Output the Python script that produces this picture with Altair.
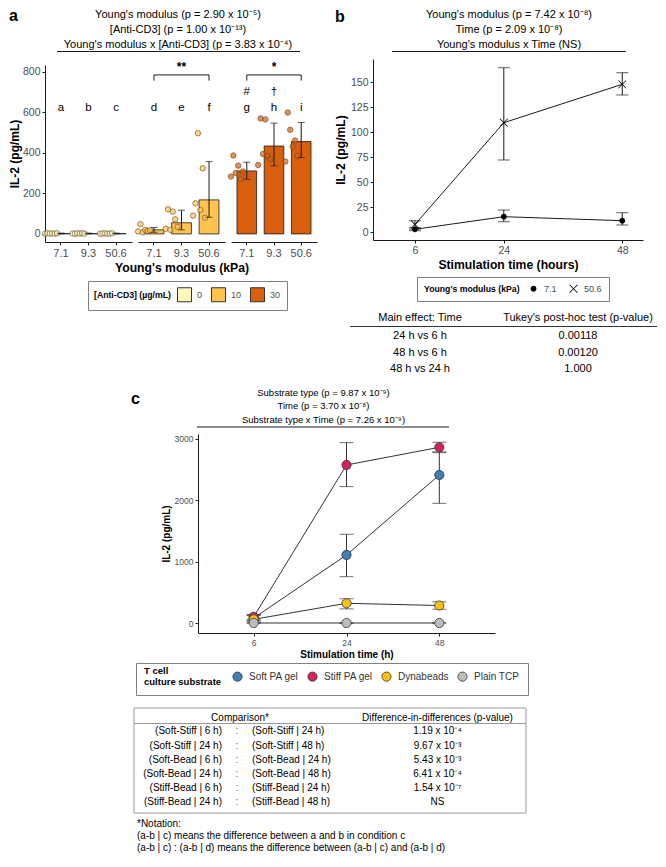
import altair as alt
import pandas as pd

FONT = "Liberation Sans"
W, H = 650, 847
INK = "#1a1a1a"
LAB = "#4d4d4d"
BOX = "#808080"
DXA = 8  # small right shift of panel a so its axis title stays inside the page


def cx(v):
    return v - 8


def cy(v):
    return v - 8


one = pd.DataFrame({"k": [0]})

# ---------------- data: panel a ----------------
moduli = ["7.1", "9.3", "50.6"]
anti_levels = ["0", "10", "30"]
anti_colors = ["#FFF7BC", "#FEC44F", "#D95F0E"]
a_mean = {"0": [2, 2, 2], "10": [20, 55, 168], "30": [311, 434, 456]}
a_lo = {"0": [0, 0, 0], "10": [8, 20, 82], "30": [270, 336, 377]}
a_hi = {"0": [4, 4, 4], "10": [32, 117, 357], "30": [354, 547, 550]}
a_letters = {"0": ["a", "b", "c"], "10": ["d", "e", "f"], "30": ["g", "h", "i"]}
a_marks = ["#", "†"]
a_reps = [1, 2, 3, 4, 5, 6]
a_points = {
    "0": [[1, 3, 2, 2, 1, 3], [2, 1, 3, 2, 3, 1], [1, 2, 3, 1, 2, 3]],
    "10": [[12, 48, 8, 20, 15, 18], [25, 122, 20, 110, 72, 35], [90, 151, 497, 118, 324, 80]],
    "30": [[283, 387, 301, 337, 270, 308], [340, 570, 395, 565, 385, 370], [357, 599, 514, 431, 461, 385]],
}
a_titles = ["Young's modulus (p = 2.90 x 10⁻⁵)",
            "[Anti-CD3] (p = 1.00 x 10⁻¹³)",
            "Young's modulus x [Anti-CD3]  (p = 3.83 x 10⁻⁴)"]
a_brackets = {"10": "**", "30": "*"}

# ---------------- data: panel b ----------------
b_times = [6, 24, 48]
b_mods = ["7.1", "50.6"]
b_mean = {"7.1": [2.7, 15.3, 11.3], "50.6": [7.5, 109.3, 147.7]}
b_lo = {"7.1": [1.3, 10.3, 7.0], "50.6": [3.0, 72.0, 137.0]}
b_hi = {"7.1": [4.3, 22.0, 19.3], "50.6": [11.3, 164.3, 159.3]}
b_titles = ["Young's modulus (p = 7.42 x 10⁻⁸)",
            "Time (p = 2.09 x 10⁻⁸)",
            "Young's modulus x Time  (NS)"]
tb_head = ["Main effect: Time", "Tukey's post-hoc test (p-value)"]
tb_comp = ["24 h vs 6 h", "48 h vs 6 h", "48 h vs 24 h"]
tb_p = ["0.00118", "0.00120", "1.000"]

# ---------------- data: panel c ----------------
c_times = ["6", "24", "48"]
c_subs = ["Soft PA gel", "Stiff PA gel", "Dynabeads", "Plain TCP"]
c_colors = ["#3E7FB8", "#D6245A", "#F7C20E", "#BDBDBD"]
c_mean = {"Soft PA gel": [80, 1109, 2413], "Stiff PA gel": [100, 2576, 2864],
          "Dynabeads": [60, 321, 285], "Plain TCP": [0, 0, 0]}
c_lo = {"Soft PA gel": [40, 755, 1951], "Stiff PA gel": [60, 2223, 2790],
        "Dynabeads": [20, 230, 225], "Plain TCP": [0, 0, 0]}
c_hi = {"Soft PA gel": [120, 1446, 2777], "Stiff PA gel": [140, 2940, 2946],
        "Dynabeads": [130, 395, 345], "Plain TCP": [0, 0, 0]}
c_titles = ["Substrate type (p = 9.87 x 10⁻⁹)",
            "Time (p = 3.70 x 10⁻⁸)",
            "Substrate type x Time  (p = 7.26 x 10⁻⁹)"]
tc_head = ["Comparison*", "Difference-in-differences (p-value)"]
tc_left = ["(Soft-Stiff | 6 h)", "(Soft-Stiff | 24 h)", "(Soft-Bead | 6 h)",
           "(Soft-Bead | 24 h)", "(Stiff-Bead | 6 h)", "(Stiff-Bead | 24 h)"]
tc_right = ["(Soft-Stiff | 24 h)", "(Soft-Stiff | 48 h)", "(Soft-Bead | 24 h)",
            "(Soft-Bead | 48 h)", "(Stiff-Bead | 24 h)", "(Stiff-Bead | 48 h)"]
tc_p = ["1.19 x 10⁻⁴", "9.67 x 10⁻³", "5.43 x 10⁻³", "6.41 x 10⁻⁴", "1.54 x 10⁻⁷", "NS"]
notes = ["*Notation:",
         "(a-b | c) means the difference between a and b in condition c",
         "(a-b | c) : (a-b | d) means the difference between (a-b | c)  and (a-b | d)"]


# ---------------- helpers ----------------
def label(s, x, y, size=11, weight="normal", align="center", baseline="middle", color="black"):
    return alt.Chart(one).mark_text(text=s, font=FONT, fontSize=size, fontWeight=weight,
                                    align=align, baseline=baseline, color=color).encode(
        x=alt.value(cx(x)), y=alt.value(cy(y)))


def hline(x0, x1, y, color=INK, width=1.0):
    return alt.Chart(one).mark_rule(color=color, strokeWidth=width).encode(
        x=alt.value(cx(x0)), x2=alt.value(cx(x1)), y=alt.value(cy(y)))


def yaxis(page_x, values, title, lsize, tsize, tpad=3, fmt=None):
    kw = dict(orient="left", offset=-cx(page_x), values=values, title=title, grid=False,
              domainColor=INK, domainWidth=1, tickColor=INK, tickWidth=1, tickSize=3,
              labelColor=LAB, labelFont=FONT, labelFontSize=lsize, labelPadding=2,
              labelFlush=False, labelOverlap=False,
              titleFont=FONT, titleFontSize=tsize, titleFontWeight="bold",
              titleColor="black", titlePadding=tpad)
    if fmt is not None:
        kw["format"] = fmt
    return alt.Axis(**kw)


def xaxis(page_y, title, lsize, tsize, values=None):
    kw = dict(orient="bottom", offset=cy(page_y) - H, title=title, grid=False,
              domainColor=INK, domainWidth=1, tickColor=INK, tickWidth=1, tickSize=3,
              labelColor=LAB, labelFont=FONT, labelFontSize=lsize, labelPadding=2,
              labelFlush=False, labelOverlap=False, labelAngle=0,
              titleFont=FONT, titleFontSize=tsize, titleFontWeight="bold",
              titleColor="black", titlePadding=3)
    if values is not None:
        kw["values"] = values
    return alt.Axis(**kw)


layers = []

# ================= PANEL A =================
a_y = alt.Scale(domain=[-40, 834], range=[cy(242), cy(65)], zero=False, nice=False)
a_ranges = [(37, 124), (130, 217), (223, 309)]
fill_a = alt.Scale(domain=anti_levels, range=anti_colors)
legend_a = alt.Legend(orient="none", legendX=cx(80 + DXA), legendY=cy(281), direction="horizontal",
                      title="[Anti-CD3] (µg/mL)", titleOrient="left", titleAnchor="middle",
                      titleBaseline="middle", titleFont=FONT, titleFontSize=8.7,
                      titleFontWeight="bold", titleColor="black", titlePadding=6,
                      labelFont=FONT, labelFontSize=9, labelColor=LAB, labelOffset=5,
                      symbolType="square", symbolSize=196, symbolStrokeColor="#333",
                      symbolStrokeWidth=1, symbolOpacity=1, columnPadding=6, padding=6,
                      strokeColor=BOX, fillColor="white")

for gi, lvl in enumerate(anti_levels):
    x0, x1 = a_ranges[gi]
    xs = alt.Scale(type="band", domain=moduli, range=[cx(x0 + DXA), cx(x1 + DXA)],
                   paddingInner=0.28, paddingOuter=0.22)
    df = pd.DataFrame({"modulus": moduli, "anti": [lvl] * 3, "mean": a_mean[lvl],
                       "lo": a_lo[lvl], "hi": a_hi[lvl], "letter": a_letters[lvl]})
    xname = alt.X("modulus:N", scale=xs, sort=moduli,
                  axis=xaxis(242, "Young's modulus (kPa)" if gi == 1 else None, 11, 12.2))
    xplain = alt.X("modulus:N", scale=xs, sort=moduli, axis=None)
    bars = alt.Chart(df).mark_bar(stroke=INK, strokeWidth=0.8).encode(
        x=xname,
        y=alt.Y("mean:Q", scale=a_y,
                axis=(yaxis(37 + DXA, [0, 200, 400, 600, 800], "IL-2 (pg/mL)", 10.5, 12, tpad=1)
                      if gi == 0 else None)),
        y2=alt.datum(0),
        fill=alt.Fill("anti:N", scale=fill_a, legend=(legend_a if gi == 0 else None)),
    )
    rows = []
    for mi, m in enumerate(moduli):
        for ri, v in zip(a_reps, a_points[lvl][mi]):
            rows.append({"modulus": m, "anti": lvl, "rep": ri, "v": v})
    pts = alt.Chart(pd.DataFrame(rows)).mark_circle(
        size=30, fillOpacity=0.7, stroke="#6b4e2e", strokeWidth=0.7, strokeOpacity=0.9).encode(
        x=xplain,
        xOffset=alt.XOffset("rep:Q", scale=alt.Scale(domain=[1, 6], range=[-6, 6])),
        y=alt.Y("v:Q", scale=a_y, axis=None),
        fill=alt.Fill("anti:N", scale=fill_a, legend=None),
    )
    err = alt.Chart(df).mark_rule(color=INK, strokeWidth=1).encode(
        x=xplain, y=alt.Y("lo:Q", scale=a_y, axis=None), y2="hi:Q")
    caps = alt.Chart(df).transform_fold(["lo", "hi"], as_=["end", "v"]).mark_tick(
        orient="horizontal", size=7, thickness=1, color=INK).encode(
        x=xplain, y=alt.Y("v:Q", scale=a_y, axis=None))
    letters = alt.Chart(df).mark_text(font=FONT, fontSize=11.5, color="black").encode(
        x=xplain, y=alt.YDatum(622, scale=a_y, axis=None), text="letter:N")
    layers += [bars, pts, err, caps, letters]
    if lvl == "30":
        mk = pd.DataFrame({"modulus": moduli[:2], "sym": a_marks})
        layers.append(alt.Chart(mk).mark_text(font=FONT, fontSize=11.5, color="black").encode(
            x=xplain, y=alt.YDatum(702, scale=a_y, axis=None), text="sym:N"))
    if lvl in a_brackets:
        br = pd.DataFrame({"m1": [moduli[0]], "m2": [moduli[2]]})
        layers.append(alt.Chart(br).mark_rule(color=INK, strokeWidth=1).encode(
            x=alt.X("m1:N", scale=xs, sort=moduli, axis=None), x2="m2:N",
            y=alt.YDatum(785, scale=a_y, axis=None)))
        ends = pd.DataFrame({"modulus": [moduli[0], moduli[2]]})
        layers.append(alt.Chart(ends).mark_rule(color=INK, strokeWidth=1).encode(
            x=xplain, y=alt.YDatum(785, scale=a_y, axis=None), y2=alt.Y2Datum(757)))
        st = pd.DataFrame({"modulus": [moduli[1]], "s": [a_brackets[lvl]]})
        layers.append(alt.Chart(st).mark_text(font=FONT, fontSize=12, fontWeight="bold",
                                              color="black").encode(
            x=xplain, y=alt.YDatum(822, scale=a_y, axis=None), text="s:N"))

layers.append(label("a", 9, 21, size=16, weight="bold", align="left", baseline="alphabetic"))
for i, t in enumerate(a_titles):
    layers.append(label(t, 170 + DXA, 14.5 + 15 * i, size=11))
layers.append(hline(49 + DXA, 292 + DXA, 51.5))

# ================= PANEL B =================
b_x = alt.Scale(domain=[-2.5, 52.2], range=[cx(373), cx(643)], zero=False, nice=False)
b_y = alt.Scale(domain=[-8, 173], range=[cy(240), cy(59)], zero=False, nice=False)
brows = []
for m in b_mods:
    for i, t in enumerate(b_times):
        brows.append({"time": t, "mod": m, "mean": b_mean[m][i], "lo": b_lo[m][i], "hi": b_hi[m][i]})
dfb = pd.DataFrame(brows)
DOT = "M0.75,0A0.75,0.75 0 1,1 -0.75,0A0.75,0.75 0 1,1 0.75,0Z"
XMARK = ("M0.93,-1.07L1.07,-0.93L0.14,0L1.07,0.93L0.93,1.07L0,0.14L-0.93,1.07L-1.07,0.93"
         "L-0.14,0L-1.07,-0.93L-0.93,-1.07L0,-0.14Z")
legend_b = alt.Legend(orient="none", legendX=cx(417), legendY=cy(277), direction="horizontal",
                      title="Young's modulus (kPa)", titleOrient="left", titleAnchor="middle",
                      titleBaseline="middle", titleFont=FONT, titleFontSize=8.7,
                      titleFontWeight="bold", titleColor="black", titlePadding=9,
                      labelFont=FONT, labelFontSize=9, labelColor=LAB, labelOffset=6,
                      symbolSize=60, symbolFillColor="black", symbolStrokeWidth=0,
                      columnPadding=12, padding=7,
                      strokeColor=BOX, fillColor="white")
bx_plain = alt.X("time:Q", scale=b_x, axis=None)
layers.append(alt.Chart(dfb).mark_line(color=INK, strokeWidth=1).encode(
    x=alt.X("time:Q", scale=b_x, axis=xaxis(240, "Stimulation time (hours)", 10.5, 12.2, [6, 24, 48])),
    y=alt.Y("mean:Q", scale=b_y,
            axis=yaxis(373, [0, 25, 50, 75, 100, 125, 150], "IL-2 (pg/mL)", 10.5, 12.2)),
    detail="mod:N"))
layers.append(alt.Chart(dfb).mark_rule(color=INK, strokeWidth=1).encode(
    x=bx_plain, y=alt.Y("lo:Q", scale=b_y, axis=None), y2="hi:Q"))
layers.append(alt.Chart(dfb).transform_fold(["lo", "hi"], as_=["end", "v"]).mark_tick(
    orient="horizontal", size=12, thickness=1, color=INK).encode(
    x=bx_plain, y=alt.Y("v:Q", scale=b_y, axis=None)))
layers.append(alt.Chart(dfb).mark_point(filled=True, color="black", opacity=1, size=60,
                                        strokeWidth=0).encode(
    x=bx_plain, y=alt.Y("mean:Q", scale=b_y, axis=None),
    shape=alt.Shape("mod:N", scale=alt.Scale(domain=b_mods, range=[DOT, XMARK]),
                    legend=legend_b)))

layers.append(label("b", 335, 22, size=16, weight="bold", align="left", baseline="alphabetic"))
for i, t in enumerate(b_titles):
    layers.append(label(t, 509, 14.5 + 15 * i, size=11))
layers.append(hline(392, 626, 51.5))

# table b
layers.append(label(tb_head[0], 420, 318, size=11))
layers.append(label(tb_head[1], 578, 318, size=11))
layers.append(hline(350, 657, 326.5, color="#333"))
dftb = pd.DataFrame({"row": [0, 1, 2], "comp": tb_comp, "p": tb_p})
rs_b = alt.Scale(domain=[0, 2], range=[cy(336), cy(369)], zero=False, nice=False)
layers.append(alt.Chart(dftb).mark_text(font=FONT, fontSize=11, color="black").encode(
    x=alt.value(cx(420)), y=alt.Y("row:Q", scale=rs_b, axis=None), text="comp:N"))
layers.append(alt.Chart(dftb).mark_text(font=FONT, fontSize=11, color="black").encode(
    x=alt.value(cx(578)), y=alt.Y("row:Q", scale=rs_b, axis=None), text="p:N"))

# ================= PANEL C =================
c_x = alt.Scale(type="point", domain=c_times, range=[cx(198), cx(495)], padding=0.6)
c_y = alt.Scale(domain=[-163, 3081], range=[cy(633), cy(434)], zero=False, nice=False)
crows = []
for s in c_subs:
    for i, t in enumerate(c_times):
        crows.append({"time": t, "sub": s, "mean": c_mean[s][i], "lo": c_lo[s][i], "hi": c_hi[s][i]})
dfc = pd.DataFrame(crows)
legend_c = alt.Legend(orient="none", legendX=cx(136), legendY=cy(663), direction="horizontal",
                      title=["T cell", "culture substrate"], titleOrient="left",
                      titleAnchor="middle", titleBaseline="middle", titleLineHeight=11,
                      titleFont=FONT, titleFontSize=9.5, titleFontWeight="bold",
                      titleColor="black", titlePadding=10, labelFont=FONT, labelFontSize=10,
                      labelColor="#333", labelOffset=6, symbolType="circle", symbolSize=85,
                      symbolStrokeColor="#333", symbolStrokeWidth=0.8, symbolOpacity=1,
                      columnPadding=7, padding=8, strokeColor=BOX, fillColor="white")
cx_plain = alt.X("time:O", scale=c_x, sort=c_times, axis=None)
layers.append(alt.Chart(dfc).mark_line(color="#333", strokeWidth=1).encode(
    x=alt.X("time:O", scale=c_x, sort=c_times, axis=xaxis(633, "Stimulation time (h)", 8.5, 10)),
    y=alt.Y("mean:Q", scale=c_y,
            axis=yaxis(198, [0, 1000, 2000, 3000], "IL-2 (pg/mL)", 8.5, 10, fmt="d")),
    detail="sub:N"))
layers.append(alt.Chart(dfc).mark_rule(color="#333", strokeWidth=1).encode(
    x=cx_plain, y=alt.Y("lo:Q", scale=c_y, axis=None), y2="hi:Q"))
layers.append(alt.Chart(dfc).transform_fold(["lo", "hi"], as_=["end", "v"]).mark_tick(
    orient="horizontal", size=14, thickness=1, color="#333").encode(
    x=cx_plain, y=alt.Y("v:Q", scale=c_y, axis=None)))
layers.append(alt.Chart(dfc).mark_circle(size=85, stroke="#333", strokeWidth=0.8, opacity=1).encode(
    x=cx_plain, y=alt.Y("mean:Q", scale=c_y, axis=None),
    fill=alt.Fill("sub:N", scale=alt.Scale(domain=c_subs, range=c_colors), legend=legend_c)))

layers.append(label("c", 131, 404, size=16, weight="bold", align="left", baseline="alphabetic"))
for i, t in enumerate(c_titles):
    layers.append(label(t, 323.5, 392.7 + 13.7 * i, size=9.5))
layers.append(hline(197, 449, 427))

# table c
layers.append(alt.Chart(one).mark_rect(filled=False, stroke="#999", strokeWidth=1).encode(
    x=alt.value(cx(134)), x2=alt.value(cx(526)), y=alt.value(cy(708)), y2=alt.value(cy(813))))
layers.append(label(tc_head[0], 240, 717.5, size=10))
layers.append(label(tc_head[1], 437.5, 717.5, size=10))
layers.append(hline(134, 526, 723.5, color="#999"))
dftc = pd.DataFrame({"row": list(range(6)), "l": tc_left, "r": tc_right, "p": tc_p,
                     "sep": [":"] * 6})
rs_c = alt.Scale(domain=[0, 5], range=[cy(731.3), cy(802.3)], zero=False, nice=False)
yrow = alt.Y("row:Q", scale=rs_c, axis=None)
layers.append(alt.Chart(dftc).mark_text(font=FONT, fontSize=10, color="black", align="right").encode(
    x=alt.value(cx(222)), y=yrow, text="l:N"))
layers.append(alt.Chart(dftc).mark_text(font=FONT, fontSize=10, color="#666").encode(
    x=alt.value(cx(237)), y=yrow, text="sep:N"))
layers.append(alt.Chart(dftc).mark_text(font=FONT, fontSize=10, color="black", align="left").encode(
    x=alt.value(cx(252)), y=yrow, text="r:N"))
layers.append(alt.Chart(dftc).mark_text(font=FONT, fontSize=10, color="black").encode(
    x=alt.value(cx(437.5)), y=yrow, text="p:N"))

for i, t in enumerate(notes):
    layers.append(label(t, 137, 824 + 12 * i, size=10, align="left"))

chart = alt.layer(*layers).resolve_scale(
    x="independent", y="independent", fill="independent", shape="independent",
    xOffset="independent"
).resolve_axis(x="independent", y="independent").resolve_legend(
    fill="independent", shape="independent"
).properties(
    width=W, height=H, padding=0, autosize=alt.AutoSizeParams(type="none")
).configure_view(stroke=None)

chart.save("out.html", embed_options={"renderer": "svg", "actions": False})
